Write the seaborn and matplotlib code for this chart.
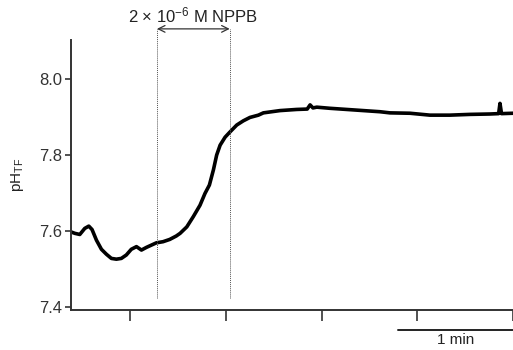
import numpy as np
import pandas as pd
import matplotlib
matplotlib.use("Agg")
import matplotlib.pyplot as plt
import matplotlib.transforms as mtransforms
import seaborn as sns

# time (s) and pH values
time_s = [19.0, 21.1, 23.7, 26.3, 28.4, 30.1, 32.4, 35.0, 37.6, 40.2, 42.8, 45.4,
          48.0, 50.6, 53.3, 55.9, 58.5, 61.1, 63.7, 67.2, 70.7, 74.1, 76.1, 79.6,
          83.0, 86.5, 89.1, 91.4, 93.5, 95.2, 97.0, 99.6, 102.2, 105.7, 109.1,
          112.6, 117.0, 119.6, 128.3, 137.0, 142.5, 144.0, 145.5, 147.5, 154.4,
          163.1, 171.8, 180.5, 185.7, 196.2, 206.6, 217.0, 227.5, 237.9, 242.5,
          243.2, 244.0, 250.0]
ph = [7.598, 7.594, 7.591, 7.607, 7.613, 7.604, 7.576, 7.552, 7.539, 7.528, 7.526,
      7.528, 7.537, 7.552, 7.559, 7.550, 7.557, 7.563, 7.569, 7.572, 7.578, 7.587,
      7.594, 7.611, 7.638, 7.668, 7.699, 7.721, 7.761, 7.800, 7.826, 7.847, 7.861,
      7.879, 7.890, 7.899, 7.905, 7.911, 7.917, 7.920, 7.921, 7.932, 7.924, 7.926,
      7.923, 7.920, 7.917, 7.914, 7.911, 7.910, 7.905, 7.905, 7.907, 7.908, 7.909,
      7.936, 7.909, 7.910]
y_ticks = [7.4, 7.6, 7.8, 8.0]
y_tick_labels = ["7.4", "7.6", "7.8", "8.0"]
x_ticks = [50, 100, 150, 200, 250]
drug_start, drug_end = 64.0, 102.0
drug_label = "2 $\\times$ 10$^{\\mathregular{-6}}$ M NPPB"
scale_bar = (190, 250)
scale_label = "1 min"

df = pd.DataFrame({"t": time_s, "pH": ph})

sns.set_theme(style="ticks")
plt.rcParams["font.family"] = ["Liberation Sans", "DejaVu Sans"]
plt.rcParams["mathtext.fontset"] = "custom"
plt.rcParams["mathtext.rm"] = "Liberation Sans"
plt.rcParams["mathtext.it"] = "Liberation Sans"

fig = plt.figure(figsize=(5.13, 3.5), dpi=100)
ax = fig.add_axes([0.138, 0.114, 0.862, 0.772])

sns.lineplot(data=df, x="t", y="pH", ax=ax, color="black", linewidth=2.6,
             estimator=None, sort=False)

ax.set_xlim(19, 250)
ax.set_ylim(7.392, 8.103)
ax.set_yticks(y_ticks)
ax.set_yticklabels(y_tick_labels)
ax.set_xticks(x_ticks)
ax.set_xticklabels([])
ax.set_xlabel("")
ax.set_ylabel("pH$_{\\mathregular{TF}}$", fontsize=11, color="#222222", labelpad=10)

for s in ["top", "right"]:
    ax.spines[s].set_visible(False)
for s in ["left", "bottom"]:
    ax.spines[s].set_color("#333333")
    ax.spines[s].set_linewidth(1.4)
ax.tick_params(axis="y", length=4, width=1.2, color="#333333", labelsize=12,
               labelcolor="#333333", pad=2)
ax.tick_params(axis="x", length=8, width=1.2, color="#333333")

# drug application window
for xv in (drug_start, drug_end):
    ax.plot([xv, xv], [7.424, 8.132], color="#555555", linestyle=(0, (1, 1)),
            linewidth=0.7, clip_on=False)
ax.annotate("", xy=(drug_start, 8.132), xytext=(drug_end, 8.132),
            arrowprops=dict(arrowstyle="<->", color="#333333", lw=0.9,
                            shrinkA=0, shrinkB=0), annotation_clip=False)
ax.text((drug_start + drug_end) / 2, 8.168, drug_label, ha="center", va="center",
        fontsize=12, color="#222222", clip_on=False)

# time scale bar
trans = mtransforms.blended_transform_factory(ax.transData, ax.transAxes)
ax.plot(list(scale_bar), [-0.074, -0.074], color="#222222", linewidth=1.4,
        transform=trans, clip_on=False)
ax.text(sum(scale_bar) / 2, -0.112, scale_label, transform=trans, ha="center",
        va="center", fontsize=11, color="#222222")

fig.savefig("out.png", dpi=100)
